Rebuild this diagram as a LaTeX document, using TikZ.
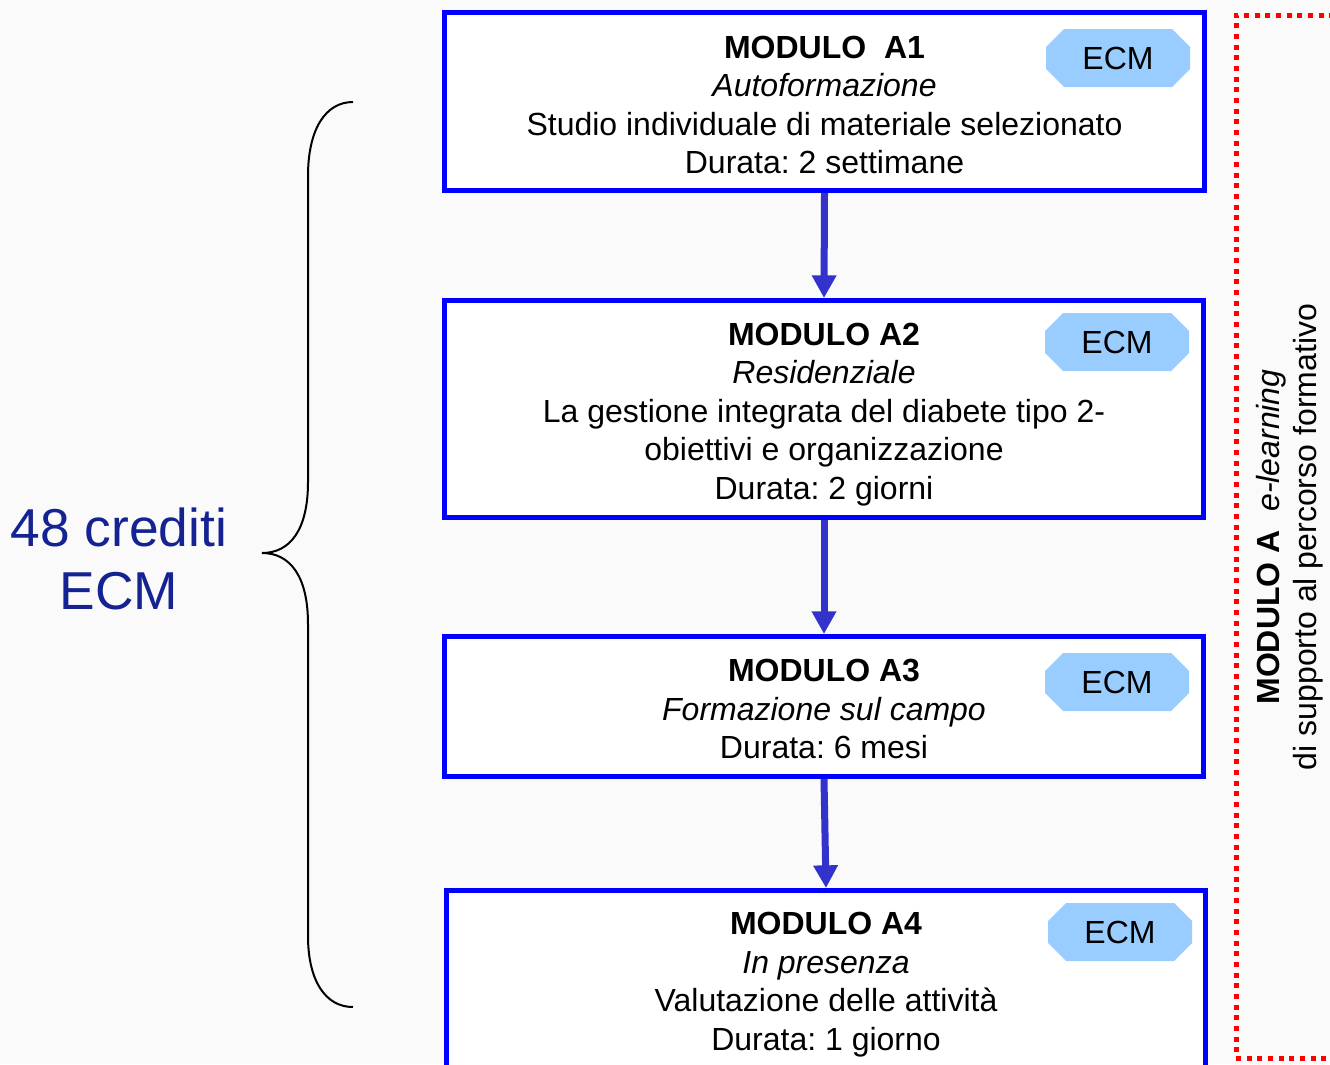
\documentclass[tikz,border=0pt]{standalone}
\usepackage{fontspec}
\setmainfont{Liberation Sans}
\usetikzlibrary{arrows.meta,calc}
\frenchspacing
\definecolor{boxblue}{RGB}{0,0,255}
\definecolor{arrowblue}{RGB}{51,51,204}
\definecolor{ecmfill}{RGB}{153,204,255}
\definecolor{navytext}{RGB}{20,35,145}
\definecolor{bgcol}{RGB}{250,250,250}
\definecolor{dotred}{RGB}{255,0,0}
\newcommand\ecmbadge[3]{%
  \fill[ecmfill] (#2-54,#3-29) -- (#2+54,#3-29) -- (#2+72,#3-11) -- (#2+72,#3+11) -- (#2+54,#3+29) -- (#2-54,#3+29) -- (#2-72,#3+11) -- (#2-72,#3-11) -- cycle;
  \node[badge] (#1) at (#2,#3) {ECM};}
\newcommand\toppad[1]{\rule{0pt}{#1}}
\begin{document}
\begin{tikzpicture}[x=0.75pt,y=-0.75pt,
  modbox/.style={draw=boxblue, line width=3.75pt, fill=white, inner sep=0pt, align=center, font=\fontsize{24}{28.9}\selectfont},
  badge/.style={inner sep=0pt, minimum width=108pt, minimum height=43.5pt, font=\fontsize{24}{28.9}\selectfont},
  flow/.style={draw=arrowblue, line width=5.25pt, -{Triangle[length=17pt,width=17.5pt]}},
  side/.style={font=\fontsize{24}{28}\selectfont, align=center}]
\useasboundingbox (0,0) rectangle (1330,1064);
\clip (0,0) rectangle (1330,1064);
\fill[bgcol] (0,0) rectangle (1330,1064);

% modules
\node[modbox, minimum width=570pt, minimum height=133.5pt] (a1) at (824.5,101.5)
  {\toppad{22pt}\textbf{MODULO\ \ A1}\\\textit{Autoformazione}\\Studio individuale di materiale selezionato\\Durata: 2 settimane};
\node[modbox, minimum width=569.25pt, minimum height=162.75pt] (a2) at (824,409)
  {\toppad{25pt}\textbf{MODULO A2}\\\textit{Residenziale}\\La gestione integrata del diabete tipo 2-\\obiettivi e organizzazione\\Durata: 2 giorni};
\node[modbox, minimum width=569.25pt, minimum height=105pt] (a3) at (824,706.5)
  {\toppad{20.5pt}\textbf{MODULO A3}\\\textit{Formazione sul campo}\\Durata: 6 mesi};
\node[modbox, minimum width=569.25pt, minimum height=135.75pt] (a4) at (826,981)
  {\toppad{22pt}\textbf{MODULO A4}\\\textit{In presenza}\\Valutazione delle attività\\Durata: 1 giorno};

% badges
\ecmbadge{e1}{1118}{58}
\ecmbadge{e2}{1117}{342}
\ecmbadge{e3}{1117}{682}
\ecmbadge{e4}{1120}{932}

% arrows
\draw[flow] (a1.south) -- (a2.north);
\draw[flow] (a2.south) -- (a3.north);
\draw[flow] (a3.south) -- (a4.north);

% brace
\draw[line width=1.5pt] (353,102) .. controls (325,102) and (308,130) .. (308,176) -- (308,482)
  .. controls (308,530) and (290,553) .. (262,553)
  .. controls (290,553) and (308,576) .. (308,624) -- (308,936)
  .. controls (308,980) and (325,1007) .. (353,1007);

\node[text=navytext, align=center, font=\fontsize{40}{47}\selectfont] (cred) at (119,559) {48 crediti\\ECM};

% e-learning frame
\draw[dotred, line width=3.75pt, dash pattern=on 3.75pt off 4.25pt] (1345,15) -- (1236,15) -- (1236,1058) -- (1345,1058);
\node[side, rotate=90] (elearn) at (1290,537)
  {\textbf{MODULO A}\hspace{14pt}\textit{e-learning}\\di supporto al percorso formativo};
\end{tikzpicture}
\end{document}
